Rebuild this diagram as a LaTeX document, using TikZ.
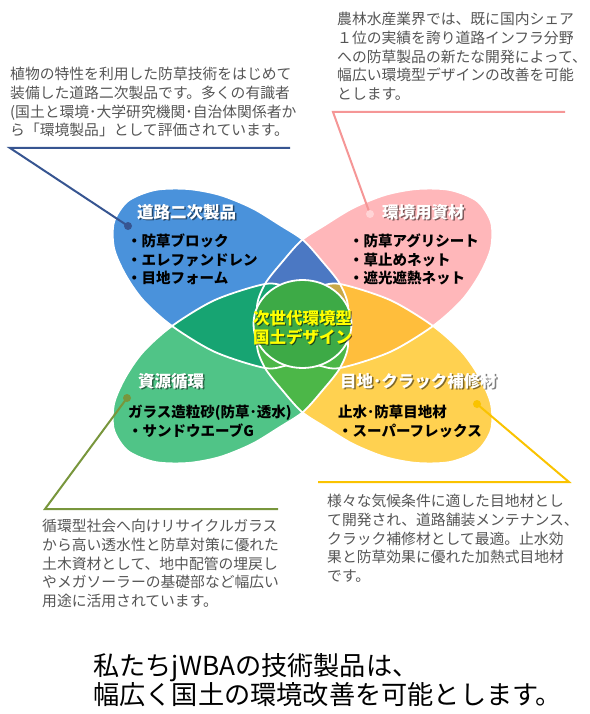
\documentclass[tikz,border=0pt]{standalone}
\usepackage{fontspec}
\setmainfont{Noto Sans CJK JP}

\definecolor{petalBlue}{RGB}{74,146,219}
\definecolor{petalPink}{RGB}{255,183,186}
\definecolor{petalGreen}{RGB}{80,196,135}
\definecolor{petalYellow}{RGB}{255,209,80}
\definecolor{lensTop}{RGB}{75,120,195}
\definecolor{lensLeft}{RGB}{23,164,114}
\definecolor{lensRight}{RGB}{255,190,60}
\definecolor{lensBottom}{RGB}{76,183,72}
\definecolor{lensOlive}{RGB}{200,168,70}
\definecolor{coreGreen}{RGB}{61,170,70}
\definecolor{coreYellow}{RGB}{255,255,0}
\definecolor{noteGray}{RGB}{85,85,85}
\definecolor{lineBlue}{RGB}{55,85,145}
\definecolor{linePink}{RGB}{245,150,150}
\definecolor{lineGreen}{RGB}{120,150,60}
\definecolor{lineYellow}{RGB}{250,195,0}

% top left petal, the other three are mirrored copies
\def\petalpath{plot[smooth cycle] coordinates {(303,240) (322,261) (340,284) (348,308) (338,338) (315,358) (288,365) (265,368) (215,352) (172,326) (143,300) (125,274) (114,248) (114,222) (128,201) (155,190) (188,189) (220,195) (252,208) (280,225)}}

\begin{document}
\begin{tikzpicture}[x=1pt, y=-1pt,
    mirrorx/.style={xshift=605pt, xscale=-1},
    mirrory/.style={yshift=-652pt, yscale=-1},
    outline/.style={draw=white, line width=1.8pt},
    note/.style={anchor=north west, inner sep=0, align=left, text=noteGray, font=\fontsize{14.8}{18.7}\selectfont},
    title/.style={anchor=west, inner sep=0, text=white, font=\bfseries\fontsize{16.5}{19}\selectfont},
    items/.style={anchor=north west, inner sep=0, align=left, font=\bfseries\fontsize{14.5}{18.5}\selectfont},
    callout/.style={line width=2pt},
  ]
  \useasboundingbox (0,0) rectangle (589,714);

  % Petals
  \fill[petalBlue] \petalpath;
  \begin{scope}[mirrorx] \fill[petalPink] \petalpath; \end{scope}
  \begin{scope}[mirrory] \fill[petalGreen] \petalpath; \end{scope}
  \begin{scope}[mirrorx, mirrory] \fill[petalYellow] \petalpath; \end{scope}

  % Overlaps
  \begin{scope}
    \clip \petalpath;
    \begin{scope}[mirrorx] \fill[lensTop] \petalpath; \end{scope}
    \begin{scope}[mirrory] \fill[lensLeft] \petalpath; \end{scope}
  \end{scope}
  \begin{scope}[mirrorx]
    \clip \petalpath;
    \begin{scope}[mirrory] \fill[lensRight] \petalpath; \end{scope}
  \end{scope}
  \begin{scope}[mirrory]
    \clip \petalpath;
    \begin{scope}[mirrorx] \fill[lensBottom] \petalpath; \end{scope}
  \end{scope}
  \begin{scope}
    \clip \petalpath;
    \begin{scope}[mirrorx]
      \clip \petalpath;
      \begin{scope}[mirrory] \fill[lensOlive] \petalpath; \end{scope}
    \end{scope}
  \end{scope}

  % White borders
  \draw[outline] \petalpath;
  \begin{scope}[mirrorx] \draw[outline] \petalpath; \end{scope}
  \begin{scope}[mirrory] \draw[outline] \petalpath; \end{scope}
  \begin{scope}[mirrorx, mirrory] \draw[outline] \petalpath; \end{scope}

  % Centre
  \filldraw[fill=coreGreen, outline] (302.5,324) ellipse [x radius=49pt, y radius=44pt];
  \node[align=center, inner sep=0, text=black, opacity=0.6, font=\bfseries\fontsize{16.5}{19}\selectfont] (coreShadow) at (303.7,329.2) {次世代環境型\\国土デザイン};
  \node[align=center, inner sep=0, text=coreYellow, font=\bfseries\fontsize{16.5}{19}\selectfont] (core) at (302.5,328) {次世代環境型\\国土デザイン};

  % Petal titles
  \foreach \name/\x/\y/\txt in {tRoad/137/212/道路二次製品, tEnv/382/212/環境用資材, tRes/138/381/資源循環, tJoint/340/381/目地･クラック補修材} {
    \node[title, text=black, opacity=0.5] (\name s) at (\x+1.5,\y+1.5) {\txt};
    \node[title] (\name) at (\x,\y) {\txt};
  }

  % Items
  \node[items] (iRoad) at (127,234) {・防草ブロック\\・エレファンドレン\\・目地フォーム};
  \node[items] (iEnv) at (349,234) {・防草アグリシート\\・草止めネット\\・遮光遮熱ネット};
  \node[items] (iRes) at (128,405) {ガラス造粒砂(防草･透水)\\・サンドウエーブG};
  \node[items] (iJoint) at (338,405) {止水･防草目地材\\・スーパーフレックス};

  % Callouts
  \coordinate (dRoad) at (128,226);  \coordinate (kRoad) at (10,148);  \coordinate (eRoad) at (290,148);
  \coordinate (dEnv) at (370,214);   \coordinate (kEnv) at (333,112);  \coordinate (eEnv) at (565,112);
  \coordinate (dRes) at (127,398);   \coordinate (kRes) at (45,509);   \coordinate (eRes) at (278,509);
  \coordinate (dJoint) at (477,404); \coordinate (kJoint) at (569,482); \coordinate (eJoint) at (318,482);
  \draw[callout, lineBlue] (dRoad) -- (kRoad) -- (eRoad);
  \draw[callout, linePink] (dEnv) -- (kEnv) -- (eEnv);
  \draw[callout, lineGreen] (dRes) -- (kRes) -- (eRes);
  \draw[callout, lineYellow] (dJoint) -- (kJoint) -- (eJoint);
  \fill[lineBlue] (dRoad) circle (4pt);
  \fill[petalPink!60!white] (dEnv) circle (4pt);
  \fill[lineGreen] (dRes) circle (4pt);
  \fill[lineYellow] (dJoint) circle (4pt);

  % Notes
  \node[note] (nRoad) at (10,67) {植物の特性を利用した防草技術をはじめて\\装備した道路二次製品です。多くの有識者\\(国土と環境･大学研究機関･自治体関係者か\\ら「環境製品」として評価されています。};
  \node[note] (nEnv) at (337,12) {農林水産業界では、既に国内シェア\\１位の実績を誇り道路インフラ分野\\への防草製品の新たな開発によって、\\幅広い環境型デザインの改善を可能\\とします。};
  \node[note] (nRes) at (42,519) {循環型社会へ向けリサイクルガラス\\から高い透水性と防草対策に優れた\\土木資材として、地中配管の埋戻し\\やメガソーラーの基礎部など幅広い\\用途に活用されています。};
  \node[note] (nJoint) at (327,494) {様々な気候条件に適した目地材とし\\て開発され、道路舗装メンテナンス、\\クラック補修材として最適。止水効\\果と防草効果に優れた加熱式目地材\\です。};

  % Message
  \node[anchor=north west, inner sep=0, align=left, font=\fontsize{26.2}{29.5}\selectfont] (msg) at (93,653) {私たちjWBAの技術製品は、\\幅広く国土の環境改善を可能とします。};
\end{tikzpicture}
\end{document}
